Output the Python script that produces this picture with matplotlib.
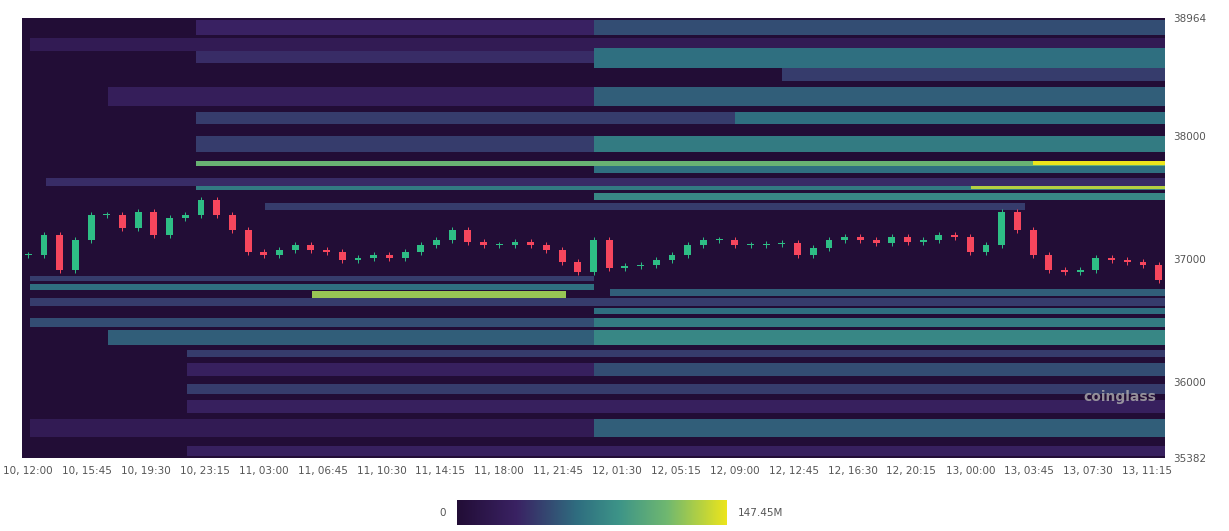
import numpy as np
import matplotlib
matplotlib.use("Agg")
import matplotlib.pyplot as plt
from matplotlib.colors import LinearSegmentedColormap
from matplotlib.patches import Rectangle

# ---- data ----
x_labels = ["10, 12:00","10, 15:45","10, 19:30","10, 23:15","11, 03:00","11, 06:45","11, 10:30",
            "11, 14:15","11, 18:00","11, 21:45","12, 01:30","12, 05:15","12, 09:00","12, 12:45",
            "12, 16:30","12, 20:15","13, 00:00","13, 03:45","13, 07:30","13, 11:15"]
y_ticks = [35382, 36000, 37000, 38000, 38964]
closes = [37035,37198,36913,37157,37360,37360,37255,37385,37198,37336,37360,37483,37360,37238,
          37059,37035,37075,37116,37075,37059,36994,37010,37035,37010,37059,37116,37157,37238,
          37141,37116,37116,37141,37116,37075,36978,36897,37157,36929,36945,36953,36994,37035,
          37116,37157,37157,37116,37116,37124,37133,37035,37092,37157,37181,37157,37133,37181,
          37141,37157,37198,37181,37059,37116,37385,37238,37035,36913,36897,36913,37010,36994,
          36978,36953,36831]
# liquidation bands: price_lo, price_hi, start_hour, end_hour, relative intensity
band_lo   = [38830,38830,38700,38600,38560,38450,38250,38250,38100,38100,37870,37870,37760,37770,37700,37600,37560,37570,37480,37400,
             36820,36750,36680,36700,36620,36550,36450,36450,36300,36300,36200,36050,36050,35900,35750,35550,35550,35400]
band_hi   = [38950,38950,38800,38700,38720,38560,38400,38400,38200,38200,38000,38000,37800,37800,37760,37660,37600,37600,37540,37460,
             36860,36800,36740,36760,36680,36600,36520,36520,36420,36420,36260,36150,36150,35980,35850,35700,35700,35480]
band_start= [10.6,36,0,10.6,36,48,5,36,10.6,45,10.6,36,10.6,64,36,1,10.6,60,36,15,
             0,0,18,37,0,36,0,36,5,36,10,10,36,10,10,0,36,10]
band_end  = [72.4]*19 + [63.5] + [36,36,34.2] + [72.4]*15
band_val  = [.22,.35,.15,.25,.45,.3,.18,.4,.3,.45,.3,.5,.75,1.0,.45,.25,.5,.9,.55,.3,
             .3,.45,.85,.4,.3,.45,.35,.5,.4,.55,.3,.2,.35,.3,.2,.15,.4,.2]
vmax_label = "147.45M"

# ---- grid ----
t = np.arange(-0.4, 72.4, 0.1)
p = np.arange(35382, 38964, 5)
Z = np.zeros((len(p), len(t)))
for lo, hi, s, e, v in zip(band_lo, band_hi, band_start, band_end, band_val):
    m = ((p >= lo) & (p <= hi))[:, None] & ((t >= s) & (t <= e))[None, :]
    Z[m] = np.maximum(Z[m], v)

cmap = LinearSegmentedColormap.from_list("liq", [(0, '#220d36'), (0.22, '#3a2263'), (0.45, '#2f6f80'),
                                                 (0.6, '#3d9488'), (0.78, '#70b870'), (1, '#ece51c')])

fig = plt.figure(figsize=(12.29, 5.31), dpi=100)
ax = fig.add_axes([22/1229, 73/531, 1143/1229, 440/531])
ax.imshow(Z, origin='lower', aspect='auto', cmap=cmap, vmin=0, vmax=1,
          extent=[t[0], t[-1], p[0], p[-1]], interpolation='nearest')

# candles (hourly)
prev = closes[0]
for i, c in enumerate(closes):
    o = prev
    col = '#2ebd85' if c >= o else '#f6465d'
    lo_, hi_ = min(o, c), max(o, c)
    ax.vlines(i, lo_ - 25, hi_ + 25, color=col, lw=0.7)
    ax.add_patch(Rectangle((i - 0.22, lo_), 0.44, max(hi_ - lo_, 6), color=col, lw=0))
    prev = c

ax.set_xlim(-0.4, 72.4)
ax.set_ylim(35382, 38964)
ax.yaxis.tick_right()
ax.set_yticks(y_ticks)
ax.set_yticklabels([str(v) for v in y_ticks])
ax.set_xticks(np.arange(len(x_labels)) * 3.75)
ax.set_xticklabels(x_labels)
ax.tick_params(colors='#555555', labelsize=7.5, length=0, pad=6)
for s in ax.spines.values():
    s.set_visible(False)
ax.text(69.5, 35880, "coinglass", color='#b0b0b0', fontsize=10, fontweight='bold', ha='center', va='center', alpha=0.8)

cax = fig.add_axes([457/1229, 6/531, 270/1229, 25/531])
cax.imshow(np.linspace(0, 1, 256)[None, :], aspect='auto', cmap=cmap, extent=[0, 1, 0, 1])
cax.set_xticks([]); cax.set_yticks([])
for s in cax.spines.values():
    s.set_visible(False)
cax.text(-0.04, 0.5, "0", ha='right', va='center', fontsize=7.5, color='#555555', transform=cax.transAxes)
cax.text(1.04, 0.5, vmax_label, ha='left', va='center', fontsize=7.5, color='#555555', transform=cax.transAxes)

fig.savefig("out.png", dpi=100, facecolor='white')
